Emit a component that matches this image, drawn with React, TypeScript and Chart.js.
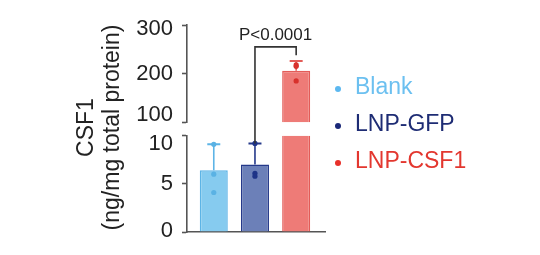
import React, { useEffect, useRef } from 'react';
import { Chart, registerables } from 'chart.js';

Chart.register(...registerables);

// ---- data ----
const categories = ['Blank', 'LNP-GFP', 'LNP-CSF1'];
const means = [6.4, 7.0, 206];
const sds = [2.7, 2.2, 20];
const replicates = [
  [9.1, 6.0, 4.1],
  [9.2, 6.1, 5.8],
  [218, 215, 185],
];
const lowRange = [0, 10];
const lowStep = 5;
const highRange = [100, 300];
const highStep = 100;
const yTitle = ['CSF1', '(ng/mg total protein)'];
const pLabel = 'P<0.0001';
const bracketPair = [1, 2];
const bracketLeftFrom = 9.2; // on low scale
const bracketTopValue = 255; // on high scale
const bracketRightTo = 238; // on high scale

// ---- styles ----
const FONT = '"Liberation Sans", Arial, Helvetica, sans-serif';
const barFill = ['#86CBEF', '#6C80B8', '#EE7B77'];
const barBorder = ['#5DB4E6', '#25398A', '#E35C58'];
const pointColor = ['#5AB2E4', '#1E3488', '#D8312C'];
const legendDot = ['#5CB8F0', '#1A2878', '#E8302A'];
const legendText = ['#6CC0F0', '#1E2C74', '#E3372F'];
const axisColor = '#555555';
const textColor = '#222222';

const barData = means.map((m, i) => ({ x: i, y: m }));
const pointData = replicates.flatMap((arr, i) => arr.map((v) => ({ x: i, y: v })));
const pointColors = replicates.flatMap((arr, i) => arr.map(() => pointColor[i]));

// label nudges at the axis break (pixels)
const labelNudge: Record<string, Record<string, number>> = {
  yHigh: { '300': 4, '100': -7 },
  yLow: { '10': 8, '0': -1 },
};

const brokenAxisPlugin = {
  id: 'brokenAxis',
  beforeDraw(chart: any) {
    Object.keys(labelNudge).forEach((id) => {
      const s = chart.scales[id];
      const items = s.getLabelItems(chart.chartArea);
      items.forEach((it: any) => {
        const d = labelNudge[id][String(it.label)];
        if (d && !it._nudged) {
          it.options.translation[1] += d;
          it._nudged = true;
        }
      });
    });
  },
  beforeDatasetDraw(chart: any, args: any) {
    const s = args.meta.yScale;
    const a = chart.chartArea;
    const ctx = chart.ctx;
    ctx.save();
    ctx.beginPath();
    ctx.rect(a.left - 20, s.top, a.right - a.left + 40, s.bottom - s.top);
    ctx.clip();
  },
  afterDatasetDraw(chart: any, args: any) {
    const meta = args.meta;
    const ctx = chart.ctx;
    if (meta.type === 'bar') {
      const s = meta.yScale;
      means.forEach((m, i) => {
        const el = meta.data[i];
        if (!el) return;
        const x = el.x;
        const y1 = s.getPixelForValue(m);
        const y2 = s.getPixelForValue(m + sds[i]);
        ctx.strokeStyle = barBorder[i];
        ctx.lineWidth = 1.6;
        ctx.beginPath();
        ctx.moveTo(x, y1);
        ctx.lineTo(x, y2);
        ctx.stroke();
        ctx.lineWidth = 2;
        ctx.beginPath();
        ctx.moveTo(x - 6.5, y2);
        ctx.lineTo(x + 6.5, y2);
        ctx.stroke();
      });
    }
    ctx.restore();
  },
  afterDraw(chart: any) {
    const ctx = chart.ctx;
    const a = chart.chartArea;
    const low = chart.scales.yLow;
    const high = chart.scales.yHigh;
    const xs = chart.scales.x;
    // significance bracket
    const xl = xs.getPixelForValue(bracketPair[0]);
    const xr = xs.getPixelForValue(bracketPair[1]);
    const yb = high.getPixelForValue(bracketTopValue);
    ctx.save();
    ctx.strokeStyle = '#333333';
    ctx.lineWidth = 1.6;
    ctx.beginPath();
    ctx.moveTo(xl, low.getPixelForValue(bracketLeftFrom));
    ctx.lineTo(xl, yb);
    ctx.lineTo(xr, yb);
    ctx.lineTo(xr, high.getPixelForValue(bracketRightTo));
    ctx.stroke();
    ctx.fillStyle = textColor;
    ctx.font = `17px ${FONT}`;
    ctx.textAlign = 'center';
    ctx.textBaseline = 'alphabetic';
    ctx.fillText(pLabel, (xl + xr) / 2, yb - 7);

    // y title
    ctx.save();
    const cy = (a.top + a.bottom) / 2 - 1;
    ctx.translate(87, cy);
    ctx.rotate(-Math.PI / 2);
    ctx.font = `23px ${FONT}`;
    ctx.textAlign = 'center';
    ctx.textBaseline = 'middle';
    ctx.fillStyle = textColor;
    yTitle.forEach((t, i) => ctx.fillText(t, 0, i * 26));
    ctx.restore();

    // legend
    const lx = a.right + 13;
    categories.forEach((c, i) => {
      const y = 88 + i * 37;
      ctx.fillStyle = legendDot[i];
      ctx.beginPath();
      ctx.arc(lx, y + 1, 3, 0, Math.PI * 2);
      ctx.fill();
      ctx.fillStyle = legendText[i];
      ctx.font = `23px ${FONT}`;
      ctx.textAlign = 'left';
      ctx.textBaseline = 'middle';
      ctx.fillText(c, lx + 17, y);
    });
    ctx.restore();
  },
};

const axisCommon = (min: number, max: number, step: number, weight: number) => ({
  type: 'linear' as const,
  position: 'left' as const,
  stack: 'yb',
  stackWeight: weight,
  min,
  max,
  border: { display: true, color: axisColor, width: 1.6 },
  grid: {
    display: true,
    drawOnChartArea: false,
    drawTicks: true,
    tickLength: 5,
    tickColor: axisColor,
    tickWidth: 1.6,
    color: axisColor,
  },
  ticks: {
    stepSize: step,
    padding: 9,
    autoSkip: false,
    color: textColor,
    font: { size: 22, family: FONT },
  },
  afterFit(scale: any) {
    scale.width = 187;
  },
});

export default function App() {
  const ref = useRef<HTMLCanvasElement>(null);
  useEffect(() => {
    const barCommon = {
      type: 'bar',
      data: barData,
      backgroundColor: barFill,
      borderColor: barBorder,
      borderWidth: 1.5,
      grouped: false,
      barPercentage: 0.68,
      categoryPercentage: 1,
      order: 1,
    };
    const pointCommon = {
      type: 'scatter',
      data: pointData,
      pointRadius: 2.6,
      pointBorderWidth: 0,
      pointBackgroundColor: pointColors,
      order: 0,
    };
    const chart = new Chart(ref.current as HTMLCanvasElement, {
      type: 'bar',
      data: {
        datasets: [
          { ...pointCommon, yAxisID: 'yHigh' } as any,
          { ...pointCommon, yAxisID: 'yLow' } as any,
          { ...barCommon, yAxisID: 'yHigh' } as any,
          { ...barCommon, yAxisID: 'yLow' } as any,
        ],
      },
      options: {
        responsive: false,
        animation: false,
        devicePixelRatio: 1,
        layout: { padding: { left: 0, top: 25, right: 215, bottom: 23 } },
        plugins: { legend: { display: false }, tooltip: { enabled: false } },
        scales: {
          x: {
            type: 'linear',
            min: -0.65,
            max: 2.7,
            offset: false,
            display: true,
            grid: { display: false, offset: false },
            ticks: { display: false },
            border: { display: true, color: axisColor, width: 1.6 },
            afterFit(scale: any) {
              scale.height = 0;
            },
          },
          yLow: axisCommon(lowRange[0], lowRange[1], lowStep, 96.3),
          yGap: {
            type: 'linear',
            position: 'left',
            stack: 'yb',
            stackWeight: 13.4,
            display: true,
            grid: { display: false },
            ticks: { display: false },
            border: { display: false },
            afterFit(scale: any) {
              scale.width = 187;
            },
          },
          yHigh: axisCommon(highRange[0], highRange[1], highStep, 97.3),
        } as any,
      },
      plugins: [brokenAxisPlugin],
    } as any);
    return () => chart.destroy();
  }, []);
  return (
    <div style={{ position: 'absolute', left: 0, top: 0, width: 540, height: 255, background: '#fff' }}>
      <canvas ref={ref} width={540} height={255} style={{ display: 'block' }} />
    </div>
  );
}
